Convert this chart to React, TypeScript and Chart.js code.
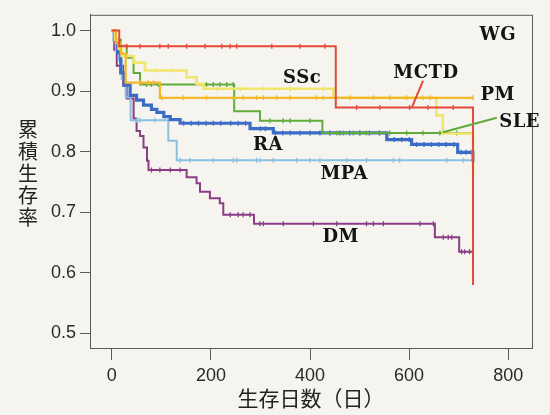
import React, { useEffect, useRef } from 'react';
import { Chart, registerables } from 'chart.js';

Chart.register(...registerables);

// ---- axis ticks ----
const xTicks = [0, 200, 400, 600, 800];
const yTicks = [0.5, 0.6, 0.7, 0.8, 0.9, 1.0];

// ---- Kaplan-Meier step points: day, survival after that day ----
const mctdDays = [0, 15, 452, 729];
const mctdSurv = [1.0, 0.974, 0.873, 0.58];
const mctdCensor = [30, 57, 97, 114, 151, 188, 222, 239, 252, 323, 380, 430, 494, 541, 601, 638, 689];

const pmDays = [0, 8, 18, 28, 97, 729];
const pmSurv = [1.0, 0.98, 0.962, 0.914, 0.889, 0.889];
const pmCensor = [57, 74, 84, 101, 144, 191, 245, 265, 292, 306, 333, 360, 413, 427, 481, 528, 561, 595, 628, 642, 729];

const sscDays = [0, 6, 14, 20, 44, 67, 151, 171, 185, 447, 655, 668, 729];
const sscSurv = [1.0, 0.985, 0.97, 0.958, 0.947, 0.934, 0.923, 0.912, 0.904, 0.889, 0.86, 0.83, 0.766];
const sscCensor = [30, 91, 120, 212, 259, 306, 360, 427];

const sleDays = [0, 8, 18, 30, 44, 57, 247, 299, 425, 729];
const sleSurv = [1.0, 0.985, 0.975, 0.955, 0.93, 0.911, 0.867, 0.851, 0.831, 0.662];
const sleCensor = [70, 80, 94, 191, 205, 218, 232, 245, 319, 346, 360, 400, 454, 467, 487, 501, 514, 541, 561, 595, 628, 662, 696];

const raDays = [0, 5, 12, 18, 25, 37, 50, 64, 80, 91, 105, 118, 138, 279, 326, 555, 605, 698, 729];
const raSurv = [1.0, 0.985, 0.963, 0.93, 0.91, 0.893, 0.885, 0.877, 0.87, 0.865, 0.858, 0.853, 0.847, 0.838, 0.831, 0.82, 0.812, 0.799, 0.783];
const raCensor = [145, 160, 175, 190, 205, 220, 240, 255, 270, 300, 310, 330, 345, 360, 380, 400, 420, 440, 460, 480, 500, 520, 540, 570, 585, 600, 615, 630, 645, 660, 675, 690, 705, 715, 725];

const mpaDays = [0, 8, 14, 20, 28, 38, 114, 131, 729];
const mpaSurv = [1.0, 0.97, 0.95, 0.92, 0.89, 0.852, 0.818, 0.786, 0.67];
const mpaCensor = [50, 57, 87, 138, 158, 205, 245, 252, 292, 299, 326, 373, 400, 420, 474, 514, 568, 581, 676, 709];

const dmDays = [0, 5, 10, 23, 30, 44, 50, 57, 64, 71, 74, 151, 171, 178, 198, 218, 225, 287, 652, 701, 729];
const dmSurv = [1.0, 0.97, 0.942, 0.909, 0.888, 0.855, 0.834, 0.826, 0.807, 0.785, 0.77, 0.758, 0.748, 0.734, 0.723, 0.715, 0.696, 0.681, 0.659, 0.635, 0.61];
const dmCensor = [5, 80, 97, 118, 138, 239, 255, 265, 279, 299, 306, 346, 407, 454, 514, 528, 548, 622, 649, 669, 679, 686, 706, 712, 722];

// ---- series labels (name, day, survival) ----
const labelNames = ['WG', 'SSc', 'MCTD', 'PM', 'SLE', 'RA', 'MPA', 'DM'];
const labelDays = [779, 384, 634, 779, 823, 315, 469, 462];
const labelSurv = [0.992, 0.921, 0.929, 0.893, 0.848, 0.811, 0.762, 0.659];

const series = [
  { name: 'MCTD', days: mctdDays, surv: mctdSurv, censor: mctdCensor, color: '#e2493a', width: 2 },
  { name: 'PM', days: pmDays, surv: pmSurv, censor: pmCensor, color: '#f0b82a', width: 2.2 },
  { name: 'SSc', days: sscDays, surv: sscSurv, censor: sscCensor, color: '#f2e56e', width: 2.6 },
  { name: 'SLE', days: sleDays, surv: sleSurv, censor: sleCensor, color: '#62aa3c', width: 2 },
  { name: 'RA', days: raDays, surv: raSurv, censor: raCensor, color: '#3d6cc6', width: 3.2 },
  { name: 'MPA', days: mpaDays, surv: mpaSurv, censor: mpaCensor, color: '#8cc0e0', width: 2 },
  { name: 'DM', days: dmDays, surv: dmSurv, censor: dmCensor, color: '#8a3c86', width: 2 },
];

function survAt(days: number[], surv: number[], d: number) {
  let v = surv[0];
  for (let i = 0; i < days.length; i++) if (days[i] <= d) v = surv[i];
  return v;
}

const bgPlugin = {
  id: 'bg',
  beforeDraw(chart: any) {
    const { ctx, width, height } = chart;
    ctx.save();
    ctx.fillStyle = '#f6f4ef';
    ctx.fillRect(0, 0, width, height);
    ctx.restore();
  },
};

const framePlugin = {
  id: 'frame',
  beforeDatasetsDraw(chart: any) {
    const { ctx, chartArea } = chart;
    ctx.save();
    ctx.strokeStyle = '#5a5a5a';
    ctx.lineWidth = 1;
    ctx.strokeRect(chartArea.left + 0.5, chartArea.top + 0.5, chartArea.right - chartArea.left, chartArea.bottom - chartArea.top);
    ctx.restore();
  },
};

const labelPlugin = {
  id: 'seriesLabels',
  afterDatasetsDraw(chart: any) {
    const { ctx, scales } = chart;
    const xs = scales.x, ys = scales.y;
    ctx.save();
    // leader lines
    ctx.lineWidth = 2;
    ctx.strokeStyle = '#e2493a';
    ctx.beginPath();
    ctx.moveTo(xs.getPixelForValue(628), ys.getPixelForValue(0.917));
    ctx.lineTo(xs.getPixelForValue(606), ys.getPixelForValue(0.874));
    ctx.stroke();
    ctx.strokeStyle = '#62aa3c';
    ctx.beginPath();
    ctx.moveTo(xs.getPixelForValue(777), ys.getPixelForValue(0.856));
    ctx.lineTo(xs.getPixelForValue(668), ys.getPixelForValue(0.832));
    ctx.stroke();
    ctx.font = 'bold 18px "DejaVu Serif"';
    (ctx as any).letterSpacing = '0.5px';
    ctx.fillStyle = '#141414';
    ctx.textAlign = 'center';
    ctx.textBaseline = 'middle';
    labelNames.forEach((n, i) => {
      ctx.fillText(n, xs.getPixelForValue(labelDays[i]), ys.getPixelForValue(labelSurv[i]));
    });
    ctx.restore();
  },
};

const yTitlePlugin = {
  id: 'yTitle',
  afterDraw(chart: any) {
    const { ctx, chartArea } = chart;
    const chars = Array.from('累積生存率');
    const step = 22;
    const cy = (chartArea.top + chartArea.bottom) / 2 - 8;
    const x = chartArea.left - 62;
    ctx.save();
    ctx.font = '20px "Noto Sans CJK JP"';
    ctx.fillStyle = '#222';
    ctx.textAlign = 'center';
    ctx.textBaseline = 'middle';
    chars.forEach((c, i) => {
      ctx.fillText(c, x, cy + (i - (chars.length - 1) / 2) * step);
    });
    ctx.restore();
  },
};

export default function App() {
  const ref = useRef<HTMLCanvasElement | null>(null);
  useEffect(() => {
    if (!ref.current) return;
    const datasets: any[] = [];
    series.forEach((s) => {
      datasets.push({
        label: s.name,
        data: s.days.map((d, i) => ({ x: d, y: s.surv[i] })),
        borderColor: s.color,
        backgroundColor: s.color,
        borderWidth: s.width,
        stepped: 'before',
        pointRadius: 0,
        fill: false,
      });
      datasets.push({
        label: s.name + ' censored',
        data: s.censor.map((d) => ({ x: d, y: survAt(s.days, s.surv, d) })),
        showLine: false,
        pointStyle: 'line',
        rotation: 90,
        pointRadius: 2.5,
        pointBorderWidth: 1.3,
        borderColor: s.color,
        backgroundColor: s.color,
      });
    });
    const tickFont = { family: '"Liberation Sans", Arial, sans-serif', size: 18 };
    const chart = new Chart(ref.current, {
      type: 'line',
      data: { datasets },
      options: {
        animation: false,
        responsive: false,
        maintainAspectRatio: false,
        layout: { padding: { top: 8, right: 18, left: 0, bottom: 0 } },
        plugins: { legend: { display: false }, tooltip: { enabled: false } },
        scales: {
          x: {
            type: 'linear',
            min: -44,
            max: 848,
            afterBuildTicks: (axis: any) => {
              axis.ticks = xTicks.map((v) => ({ value: v }));
            },
            afterFit: (axis: any) => {
              axis.height = 67;
            },
            ticks: { font: tickFont, color: '#2a2a2a', padding: 5, maxRotation: 0, autoSkip: false },
            grid: { display: true, drawOnChartArea: false, drawTicks: true, tickLength: 12, color: '#5a5a5a', lineWidth: 1 },
            border: { display: true, color: '#5a5a5a' },
            title: {
              display: true,
              text: '生存日数（日）',
              font: { family: '"Noto Sans CJK JP"', size: 21 },
              color: '#222',
              padding: { top: 0, bottom: 4 },
            },
          },
          y: {
            type: 'linear',
            min: 0.476,
            max: 1.026,
            afterBuildTicks: (axis: any) => {
              axis.ticks = yTicks.map((v) => ({ value: v }));
            },
            afterFit: (axis: any) => {
              axis.width = 90;
            },
            ticks: { font: tickFont, color: '#2a2a2a', padding: 4, callback: (v: any) => Number(v).toFixed(1) },
            grid: { display: true, drawOnChartArea: false, drawTicks: true, tickLength: 10, color: '#5a5a5a', lineWidth: 1 },
            border: { display: true, color: '#5a5a5a' },
          },
        },
      },
      plugins: [bgPlugin, framePlugin, labelPlugin, yTitlePlugin],
    });
    return () => chart.destroy();
  }, []);
  return (
    <div style={{ position: 'fixed', left: 0, top: 0, width: 550, height: 415 }}>
      <canvas ref={ref} width={550} height={415} style={{ width: 550, height: 415, display: 'block' }} />
    </div>
  );
}
